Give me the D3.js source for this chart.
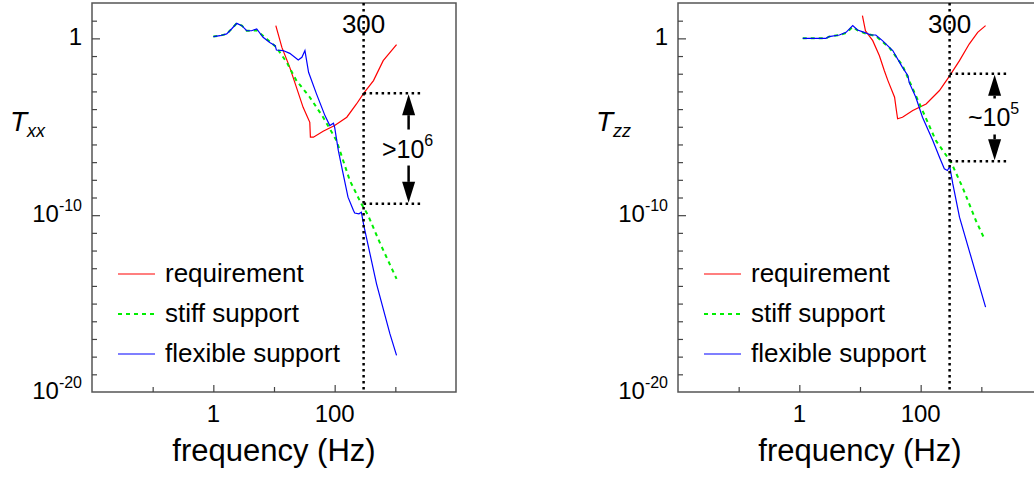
<!DOCTYPE html>
<html>
<head>
<meta charset="utf-8">
<script src="https://cdn.jsdelivr.net/npm/d3@7"></script>
<style>
  body { margin: 0; background: #fff; }
  svg { font-family: "Liberation Sans", Arial, sans-serif; }
</style>
</head>
<body>
<svg id="chart" width="1034" height="478"></svg>
<script>
// points are [log10(frequency Hz), log10(T)]
var xxRequirement = [[1.03,0.72],[1.13,-0.51],[1.26,-1.64],[1.37,-2.77],[1.48,-3.90],[1.59,-4.75],[1.60,-5.59],[1.65,-5.59],
  [1.81,-5.25],[2.0,-4.93],[2.20,-4.46],[2.36,-3.71],[2.48,-3.1],[2.64,-2.39],[2.80,-1.26],[3.02,-0.36]];
var xxStiff = [[0.0,0.1],[0.11,0.15],[0.22,0.25],[0.30,0.53],[0.385,0.85],[0.47,0.72],[0.55,0.43],[0.63,0.43],[0.715,0.45],
  [0.88,-0.03],[1.04,-0.51],[1.21,-1.36],[1.37,-2.39],[1.59,-3.33],[1.81,-4.46],[2.03,-5.78],[2.25,-8.04],[2.44,-9.36],
  [2.55,-10.0],[2.75,-11.6],[3.02,-13.6]];
var xxFlexible = [[0.0,0.1],[0.11,0.15],[0.22,0.25],[0.30,0.53],[0.385,0.85],[0.47,0.72],[0.55,0.43],[0.63,0.43],[0.715,0.53],
  [0.82,0.06],[0.93,-0.23],[1.02,-0.41],[1.04,-0.66],[1.15,-0.69],[1.26,-0.85],[1.40,-1.22],[1.46,-1.07],[1.51,-0.69],
  [1.57,-1.92],[1.70,-3.14],[1.84,-4.37],[1.92,-4.93],[1.98,-4.80],[2.0,-5.03],[2.06,-6.34],[2.14,-7.66],[2.22,-8.98],
  [2.31,-9.73],[2.33,-9.88],[2.40,-9.92],[2.44,-9.83],[2.48,-10.58],[2.69,-13.88],[2.91,-16.7],[3.02,-17.93]];

var zzRequirement = [[1.04,1.28],[1.09,0.43],[1.21,-0.13],[1.32,-0.98],[1.40,-1.82],[1.46,-2.39],[1.57,-3.33],[1.60,-4.08],
  [1.62,-4.55],[1.70,-4.46],[1.87,-4.08],[2.09,-3.71],[2.31,-2.95],[2.48,-2.11],[2.64,-1.26],[2.80,-0.32],[2.94,0.34],[3.07,0.72]];
var zzStiff = [[0.056,0],[0.44,0],[0.49,0.1],[0.66,0.19],[0.77,0.30],[0.88,0.65],[0.96,0.45],[1.07,0.30],[1.26,0.13],
  [1.48,-0.51],[1.70,-1.53],[1.81,-2.39],[2.03,-4.08],[2.25,-5.78],[2.50,-7.0],[2.69,-8.42],[2.91,-10.3],[3.05,-11.33]];
var zzFlexible = [[0.056,0],[0.44,0],[0.49,0.1],[0.66,0.19],[0.77,0.34],[0.88,0.72],[0.96,0.47],[1.07,0.34],[1.18,0.19],
  [1.26,0.19],[1.37,-0.13],[1.54,-0.69],[1.70,-1.64],[1.79,-2.11],[1.81,-2.49],[1.92,-3.33],[2.03,-4.46],[2.20,-5.78],
  [2.31,-6.72],[2.39,-7.38],[2.44,-7.47],[2.48,-7.25],[2.53,-8.23],[2.64,-10.11],[2.80,-12.0],[3.07,-15.2]];

var xTicks = [0.1, 1, 10, 100, 1000];
var xLabels = [{v: 1, t: "1"}, {v: 100, t: "100"}];
var yTicks = d3.range(-19, 2).map(function(e) { return Math.pow(10, e); });
var yLabels = [{v: 1, t: "1", sup: ""}, {v: 1e-10, t: "10", sup: "-10"}, {v: 1e-20, t: "10", sup: "-20"}];
var legendNames = ["requirement", "stiff support", "flexible support"];
var markerFreq = 300;

var panels = [
  {left: 92, sub: "xx", series: [xxRequirement, xxStiff, xxFlexible], band: [Math.pow(10, -3.1), Math.pow(10, -9.36)], note: ">10", noteSup: "6"},
  {left: 678, sub: "zz", series: [zzRequirement, zzStiff, zzFlexible], band: [Math.pow(10, -2.0), Math.pow(10, -6.95)], note: "~10", noteSup: "5"}
];

var colors = ["#ff0000", "#00ee00", "#0000ff"];
var dashes = [null, "4,4", null];
var widths = [1.2, 2, 1.2];

var svg = d3.select("#chart");
var plotW = 364, plotTop = 3, plotBottom = 392;

var y = d3.scaleLog().domain([1e-20, 1e2]).range([plotBottom, plotTop]);

// arrow: shaft from y0 to the tip at yTip, filled head
function arrow(g, xPos, y0, yTip) {
  var dir = yTip < y0 ? 1 : -1, headLen = 21, headHalf = 6.5;
  g.append("line").attr("x1", xPos).attr("x2", xPos).attr("y1", y0).attr("y2", yTip + dir * headLen)
      .attr("stroke", "#000").attr("stroke-width", 2.5);
  g.append("path")
      .attr("d", "M" + xPos + "," + yTip + "L" + (xPos - headHalf) + "," + (yTip + dir * headLen) +
                 "L" + (xPos + headHalf) + "," + (yTip + dir * headLen) + "Z")
      .attr("fill", "#000");
}

panels.forEach(function(p) {
  var x = d3.scaleLog().domain([0.01, 1e4]).range([p.left, p.left + plotW]);
  var g = svg.append("g");

  var line = d3.line()
      .x(function(d) { return x(Math.pow(10, d[0])); })
      .y(function(d) { return y(Math.pow(10, d[1])); });

  // curves
  p.series.forEach(function(s, i) {
    g.append("path")
        .attr("d", line(s))
        .attr("fill", "none")
        .attr("stroke", colors[i])
        .attr("stroke-width", widths[i])
        .attr("stroke-dasharray", dashes[i]);
  });

  // frame
  g.append("rect")
      .attr("x", p.left).attr("y", plotTop)
      .attr("width", plotW).attr("height", plotBottom - plotTop)
      .attr("fill", "none")
      .attr("stroke", "#555")
      .attr("stroke-width", 1.5);

  // y ticks (inward)
  var ya = g.append("g")
      .attr("transform", "translate(" + p.left + ",0)")
      .call(d3.axisRight(y).tickValues(yTicks).tickSize(5).tickFormat(""));
  ya.select(".domain").remove();
  ya.selectAll(".tick line").attr("stroke", "#444").attr("stroke-width", 1.2)
      .filter(function(d) { return d === 1 || d === 1e-10; }).attr("x2", 8);

  // x ticks (inward)
  var xa = g.append("g")
      .attr("transform", "translate(0," + plotBottom + ")")
      .call(d3.axisTop(x).tickValues(xTicks).tickSize(5).tickFormat(""));
  xa.select(".domain").remove();
  xa.selectAll(".tick line").attr("stroke", "#444").attr("stroke-width", 1.2)
      .filter(function(d) { return d === 1 || d === 100; }).attr("y2", -7);

  // tick labels
  xLabels.forEach(function(l) {
    g.append("text").attr("x", x(l.v)).attr("y", plotBottom + 30)
        .attr("text-anchor", "middle").attr("font-size", 24).text(l.t);
  });
  yLabels.forEach(function(l) {
    var t = g.append("text").attr("x", p.left - 10).attr("y", y(l.v) + 7)
        .attr("text-anchor", "end").attr("font-size", 24);
    t.append("tspan").text(l.t);
    if (l.sup) t.append("tspan").attr("font-size", 16).attr("dy", -11).text(l.sup);
  });

  // axis titles
  g.append("text").attr("x", p.left + plotW / 2).attr("y", 461)
      .attr("text-anchor", "middle").attr("font-size", 31).text("frequency (Hz)");
  var yt = g.append("text").attr("x", p.left - 82).attr("y", 131)
      .attr("font-size", 28).attr("font-style", "italic");
  yt.append("tspan").text("T");
  yt.append("tspan").attr("font-size", 18).attr("dy", 6).text(p.sub);

  // 300 Hz marker
  var xm = x(markerFreq);
  g.append("line").attr("x1", xm).attr("x2", xm).attr("y1", plotTop).attr("y2", plotBottom)
      .attr("stroke", "#000").attr("stroke-width", 2.5).attr("stroke-dasharray", "2.5,3.5");
  g.append("text").attr("x", xm).attr("y", 33)
      .attr("text-anchor", "middle").attr("font-size", 26).text("300");

  // margin band
  var y1 = y(p.band[0]), y2 = y(p.band[1]), xr = xm + 59, xa2 = xm + 45;
  [y1, y2].forEach(function(yy) {
    g.append("line").attr("x1", xm).attr("x2", xr).attr("y1", yy).attr("y2", yy)
        .attr("stroke", "#000").attr("stroke-width", 2.5).attr("stroke-dasharray", "2.5,3.5");
  });
  var mid = (y1 + y2) / 2;
  arrow(g, xa2, mid - 19, y1 + 1);
  arrow(g, xa2, mid + 17, y2 - 1);
  var nt = g.append("text").attr("x", xa2 - 1).attr("y", mid + 9)
      .attr("text-anchor", "middle").attr("font-size", 25);
  nt.append("tspan").text(p.note);
  nt.append("tspan").attr("font-size", 16).attr("dy", -12).text(p.noteSup);

  // legend
  legendNames.forEach(function(name, i) {
    var ly = 274 + i * 40;
    g.append("line").attr("x1", p.left + 26).attr("x2", p.left + 63).attr("y1", ly).attr("y2", ly)
        .attr("stroke", colors[i]).attr("stroke-width", widths[i]).attr("stroke-dasharray", dashes[i]);
    g.append("text").attr("x", p.left + 73).attr("y", ly + 8)
        .attr("font-size", 26).text(name);
  });
});
</script>
</body>
</html>
